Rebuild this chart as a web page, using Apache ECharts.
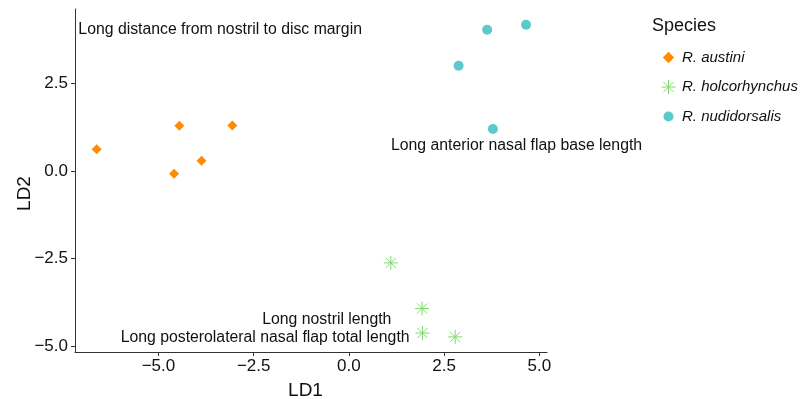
<!DOCTYPE html>
<html>
<head>
<meta charset="utf-8">
<script src="https://cdn.jsdelivr.net/npm/echarts@6/dist/echarts.min.js"></script>
<style>
  html, body { margin: 0; padding: 0; background: #fff; }
  #chart { width: 806px; height: 399px; }
</style>
</head>
<body>
<div id="chart"></div>
<script>
// LD scores
var austiniX = [-6.62, -4.45, -3.06, -3.87, -4.59];
var austiniY = [0.62, 1.29, 1.30, 0.29, -0.08];
var holcoX = [1.10, 1.92, 1.93, 2.79];
var holcoY = [-2.62, -3.92, -4.62, -4.73];
var nudiX = [3.63, 4.65, 2.88, 3.78];
var nudiY = [4.03, 4.17, 3.00, 1.20];

// loading labels
var noteText = ['Long distance from nostril to disc margin', 'Long anterior nasal flap base length',
  'Long nostril length', 'Long posterolateral nasal flap total length'];
var noteX = [-3.38, 4.40, -0.58, -2.20];
var noteY = [4.02, 0.71, -4.25, -4.76];

var speciesNames = ['R. austini', 'R. holcorhynchus', 'R. nudidorsalis'];
var xTicks = [-5, -2.5, 0, 2.5, 5];
var yTicks = [-5, -2.5, 0, 2.5];

var orange = '#ff8c00', green = '#7ddc6a', teal = '#5ccaca';
var font = 'Liberation Sans, Arial, sans-serif';

function pairs(xs, ys) {
  return xs.map(function (x, i) { return [x, ys[i]]; });
}
function fmt(v) {
  return v.toFixed(1).replace('-', '\u2212');
}

var starPath = 'path://M0,-7L0,7M-7,0L7,0M-5,-5L5,5M-5,5L5,-5';
var diamondIcon = 'path://M-6.2,-6.2M6.2,6.2M0,-5L5,0L0,5L-5,0Z';
var circleIcon = 'path://M-7,-7M7,7M-5,0A5,5 0 1,0 5,0A5,5 0 1,0 -5,0Z';

var chart = echarts.init(document.getElementById('chart'));
chart.setOption({
  animation: false,
  textStyle: { fontFamily: font },
  title: {
    text: 'Species', left: 652, top: 17, padding: 0,
    textStyle: { fontSize: 18, fontWeight: 'normal', color: '#111', fontFamily: font }
  },
  legend: {
    orient: 'vertical', left: 656, top: 45,
    itemWidth: 17, itemHeight: 14, itemGap: 14.5,
    textStyle: { fontSize: 15, fontStyle: 'italic', color: '#111', fontFamily: font },
    data: [
      { name: speciesNames[0], icon: diamondIcon },
      { name: speciesNames[1], icon: starPath, itemStyle: { borderWidth: 1, borderColor: green } },
      { name: speciesNames[2], icon: circleIcon }
    ]
  },
  grid: { left: 75, right: 259, top: 9, bottom: 47, outerBoundsMode: 'none', containLabel: false },
  xAxis: {
    type: 'value', min: -7.19, max: 5.2,
    name: 'LD1', nameLocation: 'middle', nameGap: 29, nameMoveOverlap: false,
    nameTextStyle: { fontSize: 19, color: '#111', padding: [0, 11, 0, 0] },
    splitLine: { show: false },
    axisLine: { show: true, onZero: false, lineStyle: { color: '#333', width: 1 } },
    axisTick: { show: true, length: 4, customValues: xTicks, lineStyle: { color: '#333' } },
    axisLabel: { customValues: xTicks, margin: 6, fontSize: 17, color: '#111', formatter: fmt }
  },
  yAxis: {
    type: 'value', min: -5.16, max: 4.62,
    name: 'LD2', nameLocation: 'middle', nameGap: 41, nameRotate: 90, nameMoveOverlap: false,
    nameTextStyle: { fontSize: 19, color: '#111', padding: [0, 26, 0, 0] },
    splitLine: { show: false },
    axisLine: { show: true, onZero: false, lineStyle: { color: '#333', width: 1 } },
    axisTick: { show: true, length: 4, customValues: yTicks, lineStyle: { color: '#333' } },
    axisLabel: { customValues: yTicks, margin: 7, fontSize: 17, color: '#111', formatter: fmt }
  },
  series: [
    {
      name: speciesNames[0], type: 'scatter', symbol: 'diamond', symbolSize: 10,
      itemStyle: { color: orange, opacity: 1 },
      data: pairs(austiniX, austiniY)
    },
    {
      name: speciesNames[1], type: 'scatter', symbol: starPath, symbolSize: 14,
      itemStyle: { color: green, borderColor: green, borderWidth: 1, opacity: 1 },
      data: pairs(holcoX, holcoY)
    },
    {
      name: speciesNames[2], type: 'scatter', symbol: 'circle', symbolSize: 10,
      itemStyle: { color: teal, opacity: 1 },
      data: pairs(nudiX, nudiY)
    },
    {
      name: 'notes', type: 'scatter', symbol: 'circle', symbolSize: 0, silent: true, clip: false,
      itemStyle: { color: 'transparent', opacity: 1 },
      label: {
        show: true, position: 'inside', fontSize: 15.8, color: '#111', fontFamily: font,
        textBorderWidth: 0,
        formatter: function (p) { return p.name; }
      },
      data: noteText.map(function (t, i) { return { name: t, value: [noteX[i], noteY[i]] }; })
    }
  ]
});
</script>
</body>
</html>
